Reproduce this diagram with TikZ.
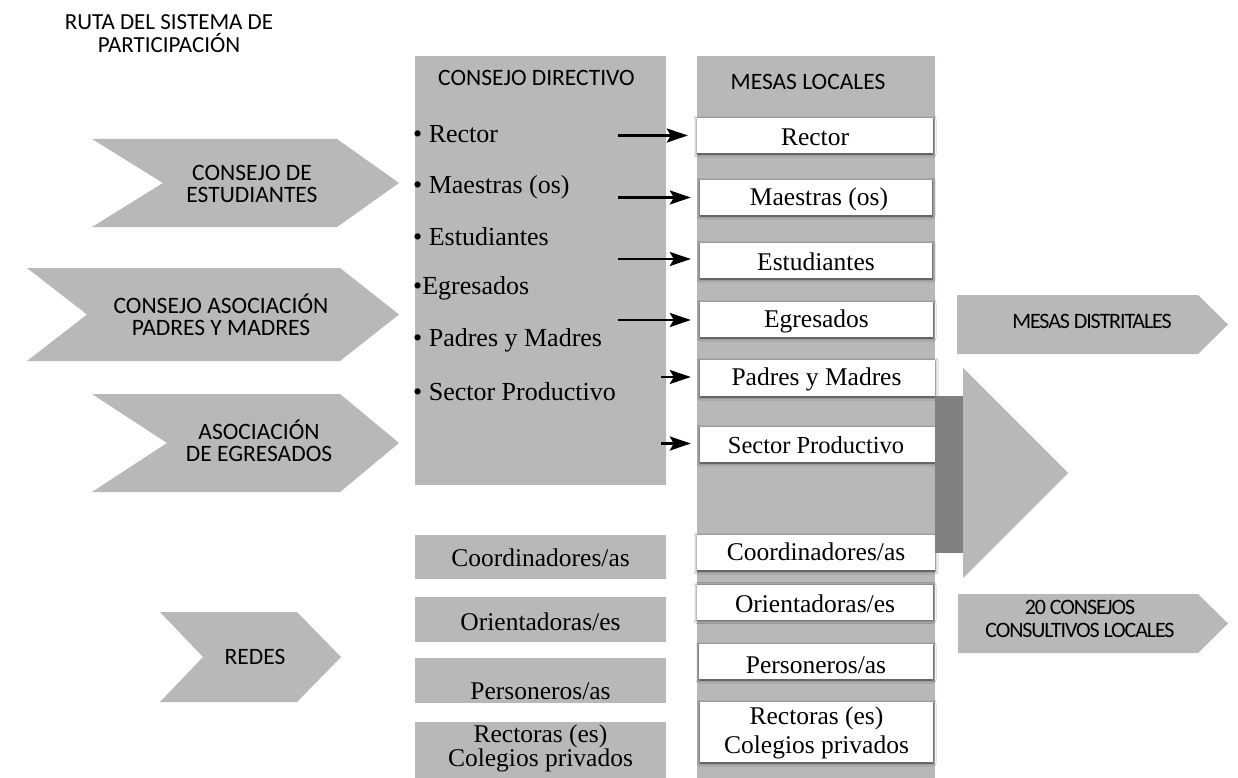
\documentclass[tikz,border=0pt]{standalone}
\usepackage{fontspec}
\setmainfont{Liberation Serif}
\newfontfamily\sansc{Carlito}
\newfontfamily\sanstight[LetterSpace=-5]{Carlito}
\usetikzlibrary{arrows.meta,shadows.blur}
\definecolor{boxgray}{RGB}{183,184,186}
\definecolor{darkgraytwo}{RGB}{127,128,130}
\begin{document}
\begin{tikzpicture}[x=1pt,y=-1pt,
  graybox/.style={fill=boxgray, draw=none, inner sep=0},
  wbox/.style={fill=white, inner sep=0, blur shadow={shadow xshift=0pt, shadow yshift=-1pt, shadow blur radius=3pt, shadow opacity=70}},
  serif/.style={font=\fontsize{25.5}{29}\selectfont, inner sep=0, align=center},
  bullet/.style={font=\fontsize{26}{29}\selectfont, inner sep=0, anchor=west},
  sans/.style={font=\sansc\fontsize{23.5}{22}\selectfont, inner sep=0, align=center},
  sanst/.style={font=\sanstight\fontsize{22}{23}\selectfont, inner sep=0, align=center},
  chev/.style={fill=boxgray, draw=none},
  arr/.style={line width=2.6pt, -{Stealth[length=21pt,width=14pt,inset=4pt]}, shorten >=9pt}
]
\useasboundingbox (0,0) rectangle (1238,778);
\fill[white] (0,0) rectangle (1238,778);

% title
\node[sans, font=\sansc\fontsize{23}{22.5}\selectfont] (title) at (169,33.5) {RUTA DEL SISTEMA DE\\PARTICIPACIÓN};

% left chevrons
\fill[chev] (92,139) -- (337,139) -- (399,183) -- (337,227) -- (92,227) -- (163,183) -- cycle;
\node[sans] (ce) at (252,183.5) {CONSEJO DE\\ESTUDIANTES};
\fill[chev] (27,268) -- (340,268) -- (399,314.5) -- (340,361) -- (27,361) -- (87,314.5) -- cycle;
\node[sans] (cap) at (221,314.5) {CONSEJO ASOCIACIÓN\\PADRES Y MADRES};
\fill[chev] (92,394) -- (340,394) -- (399,443) -- (340,492) -- (92,492) -- (167,443) -- cycle;
\node[sans] (ae) at (259,441) {ASOCIACIÓN\\DE EGRESADOS};
\fill[chev] (160,612) -- (297,612) -- (341,657) -- (297,702) -- (160,702) -- (203,657) -- cycle;
\node[sans] (redes) at (255,657) {REDES};

% Consejo directivo column
\node[graybox, minimum width=251, minimum height=429] (cd) at (540.5,270.5) {};
\node[sans] (cdt) at (536.5,78) {CONSEJO DIRECTIVO};
\node[bullet] (b1) at (413,134) {• Rector};
\node[bullet] (b2) at (413,187) {• Maestras (os)};
\node[bullet] (b3) at (413,237) {• Estudiantes};
\node[bullet] (b4) at (413,288) {•Egresados};
\node[bullet] (b5) at (413,340) {• Padres y Madres};
\node[bullet] (b6) at (413,392) {• Sector Productivo};

% left bottom boxes
\node[graybox, minimum width=251, minimum height=44] (lb1) at (540.5,557) {};
\node[serif] (lt1) at (540.5,558) {Coordinadores/as};
\node[graybox, minimum width=251, minimum height=45] (lb2) at (540.5,619.5) {};
\node[serif] (lt2) at (540.5,622) {Orientadoras/es};
\node[graybox, minimum width=251, minimum height=45] (lb3) at (540.5,680.5) {};
\node[serif] (lt3) at (540.5,691) {Personeros/as};
\node[graybox, minimum width=251, minimum height=56] (lb4) at (540.5,750) {};
\node[serif, font=\fontsize{25.5}{21.5}\selectfont] (lt4) at (540.5,748) {Rectoras (es)\\Colegios privados};

% Mesas locales column
\node[graybox, minimum width=238, minimum height=722, anchor=north west] (ml) at (697,56) {};
\node[sans] (mlt) at (808,82) {MESAS LOCALES};
\node[wbox, minimum width=236, minimum height=35] (r1) at (815,135.5) {};
\node[serif] at (815,137) {Rector};
\node[wbox, minimum width=232, minimum height=35] (r2) at (816,197.5) {};
\node[serif] at (819,199) {Maestras (os)};
\node[wbox, minimum width=232, minimum height=35] (r3) at (816,260.5) {};
\node[serif] at (816,262) {Estudiantes};
\node[wbox, minimum width=233, minimum height=35] (r4) at (816.5,319.5) {};
\node[serif] at (816.5,321) {Egresados};
\node[wbox, minimum width=235, minimum height=36] (r5) at (817.5,378) {};
\node[serif] at (816.5,379) {Padres y Madres};
\node[wbox, minimum width=235, minimum height=35] (r6) at (817.5,444.5) {};
\node[serif, font=\fontsize{24.5}{29}\selectfont] at (816,445) {Sector Productivo};
\node[wbox, minimum width=238, minimum height=35] (r7) at (816,552.5) {};
\node[serif] at (816,552) {Coordinadores/as};
\node[wbox, minimum width=236, minimum height=35] (r8) at (815,602) {};
\node[serif] at (815,604) {Orientadoras/es};
\node[wbox, minimum width=234, minimum height=35] (r9) at (816,661.5) {};
\node[serif] at (816,665) {Personeros/as};
\node[wbox, minimum width=233, minimum height=60] (r10) at (816.5,732) {};
\node[serif] at (816.5,733) {Rectoras (es)\\Colegios privados};

% arrows
\coordinate (a1) at (618,135.5);
\coordinate (a2) at (618,197.5);
\coordinate (a3) at (618,259);
\coordinate (a4) at (618,320);
\coordinate (a5) at (661,377);
\coordinate (a6) at (661,443.5);
\draw[arr] (a1) -- (a1 -| r1.west);
\draw[arr] (a2) -- (a2 -| r2.west);
\draw[arr] (a3) -- (a3 -| r3.west);
\draw[arr] (a4) -- (a4 -| r4.west);
\draw[arr] (a5) -- (a5 -| r5.west);
\draw[arr] (a6) -- (a6 -| r6.west);

% right side
\fill[darkgraytwo] (935,396) rectangle (963,553);
\fill[boxgray] (963,368) -- (1068,473) -- (963,578) -- cycle;
\fill[chev] (957,295) -- (1198,295) -- (1228,324.5) -- (1198,354) -- (957,354) -- cycle;
\node[sanst] (md) at (1092,321) {MESAS DISTRITALES};
\fill[chev] (958,594) -- (1198,594) -- (1228,623.5) -- (1198,653) -- (958,653) -- cycle;
\node[sanst] (cc) at (1080,619) {20 CONSEJOS\\CONSULTIVOS LOCALES};
\end{tikzpicture}
\end{document}
